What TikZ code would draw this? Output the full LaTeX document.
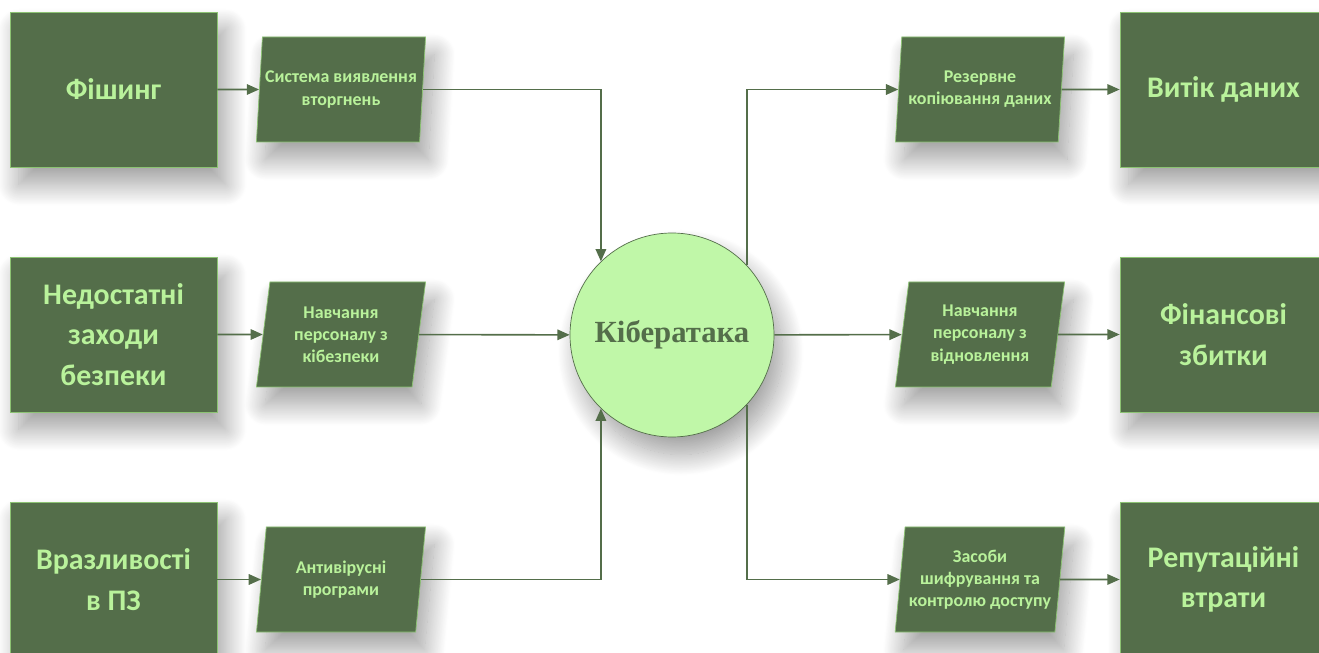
\documentclass[tikz,border=0pt]{standalone}
\usepackage{fontspec}
\setmainfont{Carlito}
\newfontfamily\serifbold{Liberation Serif}
\usetikzlibrary{positioning,shapes.geometric,arrows.meta,shadows.blur}
\definecolor{darkgr}{RGB}{84,110,74}
\definecolor{lightgr}{RGB}{185,242,155}
\definecolor{edgegr}{RGB}{140,195,115}
\definecolor{ballgr}{RGB}{192,247,168}

\begin{document}
\begin{tikzpicture}[
    soft/.style = {blur shadow={shadow xshift=5pt, shadow yshift=-10pt, shadow blur radius=12pt,
                   shadow blur steps=30, shadow opacity=38}},
    cause/.style = {draw=edgegr, fill=darkgr, text=lightgr, soft, align=center,
                    minimum width=4.14cm, minimum height=3.1cm,
                    font=\bfseries\fontsize{17}{23}\selectfont},
    measure/.style = {trapezium, trapezium left angle=81, trapezium right angle=99,
                      trapezium stretches=true, draw=edgegr, fill=darkgr, text=lightgr, soft,
                      minimum width=3.4cm, minimum height=2.1cm, inner sep=0pt, align=center,
                      font=\bfseries\fontsize{10.2}{12.6}\selectfont},
    attack/.style = {circle, draw=darkgr, fill=ballgr, text=darkgr, soft, minimum size=4.08cm,
                     font=\serifbold\bfseries\fontsize{17.5}{20}\selectfont},
    link/.style = {draw=darkgr, line width=0.9pt, -{Triangle[length=7pt,width=6pt]}}
]
    \useasboundingbox (0,0) rectangle (26.38,-13.06);

    % causes
    \node[cause] (phish) at (2.27,-1.79) {Фішинг};
    \node[cause] (weak) at (2.27,-6.69) {Недостатні\\заходи\\безпеки};
    \node[cause] (vuln) at (2.27,-11.59) {Вразливості\\в ПЗ};

    % protection
    \node[measure] (ids) at (6.82,-1.79) {Система виявлення\\вторгнень};
    \node[measure] (train) at (6.82,-6.69) {Навчання\\персоналу з\\кібезпеки};
    \node[measure] (av) at (6.82,-11.59) {Антивірусні\\програми};

    \node[attack] (cyber) at (13.44,-6.7) {Кібератака};

    % recovery
    \node[measure] (backup) at (19.6,-1.79) {Резервне\\копіювання даних};
    \node[measure] (recov) at (19.6,-6.69) {Навчання\\персоналу з\\відновлення};
    \node[measure] (crypt) at (19.6,-11.59) {Засоби\\шифрування та\\контролю доступу};

    % effects
    \node[cause] (leak) at (24.47,-1.79) {Витік даних};
    \node[cause] (loss) at (24.47,-6.69) {Фінансові\\збитки};
    \node[cause] (image) at (24.47,-11.59) {Репутаційні\\втрати};

    \draw[link] (phish) -- (ids);
    \draw[link] (weak) -- (train);
    \draw[link] (vuln) -- (av);

    \draw[link] (ids) -| (cyber.134);
    \draw[link] (train) -- (cyber);
    \draw[link] (av) -| (cyber.-134);

    \draw[link] (cyber.43) |- (backup);
    \draw[link] (cyber) -- (recov);
    \draw[link] (cyber.-43) |- (crypt);

    \draw[link] (backup) -- (leak);
    \draw[link] (recov) -- (loss);
    \draw[link] (crypt) -- (image);
\end{tikzpicture}
\end{document}
